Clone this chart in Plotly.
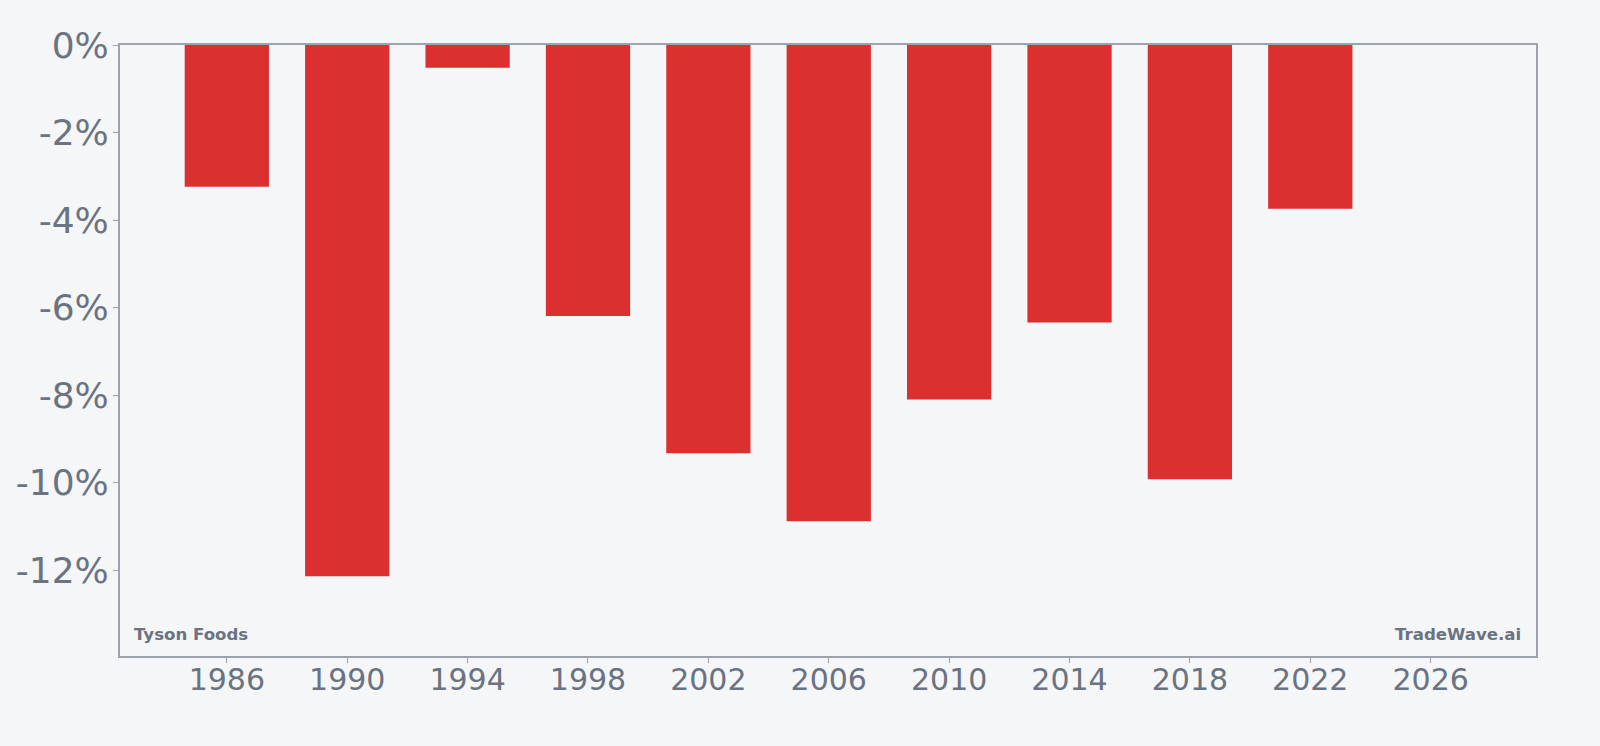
import plotly.graph_objects as go

years = [1986, 1990, 1994, 1998, 2002, 2006, 2010, 2014, 2018, 2022]
values = [-3.24, -12.14, -0.52, -6.19, -9.33, -10.88, -8.10, -6.34, -9.92, -3.74]
y_ticks = [0, -2, -4, -6, -8, -10, -12]
y_tick_labels = ["0%", "-2%", "-4%", "-6%", "-8%", "-10%", "-12%"]
x_ticks = [1986, 1990, 1994, 1998, 2002, 2006, 2010, 2014, 2018, 2022, 2026]

bg = "#f4f6f8"
axis_col = "#9ca3af"
text_col = "#6b7280"

fig = go.Figure(go.Bar(
    x=years, y=values, width=2.8,
    marker=dict(color="#dc3030", line=dict(width=0)),
))

fig.update_layout(
    width=1600, height=746,
    paper_bgcolor=bg, plot_bgcolor=bg,
    margin=dict(l=120, r=64, t=45, b=90),
    font=dict(family="DejaVu Sans", color=text_col, size=30),
    showlegend=False,
    xaxis=dict(
        range=[1982.45, 2029.5], tickvals=x_ticks, ticktext=[str(t) for t in x_ticks],
        showgrid=False, zeroline=False, showline=True, linecolor=axis_col, linewidth=2,
        mirror=True, ticks="outside", ticklen=5, tickcolor=axis_col, tickwidth=1,
        ticklabelstandoff=-9,
        tickfont=dict(size=30, color=text_col),
    ),
    yaxis=dict(
        range=[min(values) * 1.15, 0], tickvals=y_ticks, ticktext=y_tick_labels,
        showgrid=False, zeroline=False, showline=True, linecolor=axis_col, linewidth=2,
        mirror=True, ticks="outside", ticklen=5, tickcolor=axis_col, tickwidth=1,
        ticklabelstandoff=-3,
        tickfont=dict(size=36, color=text_col),
    ),
    annotations=[
        dict(text="<b>Tyson Foods</b>", xref="paper", yref="paper", x=0, y=0,
             xanchor="left", yanchor="bottom", xshift=12, yshift=10,
             showarrow=False, font=dict(size=16.6, color=text_col)),
        dict(text="<b>TradeWave.ai</b>", xref="paper", yref="paper", x=1, y=0,
             xanchor="right", yanchor="bottom", xshift=-13, yshift=10,
             showarrow=False, font=dict(size=16.6, color=text_col)),
    ],
)

fig.write_html("out.html")
